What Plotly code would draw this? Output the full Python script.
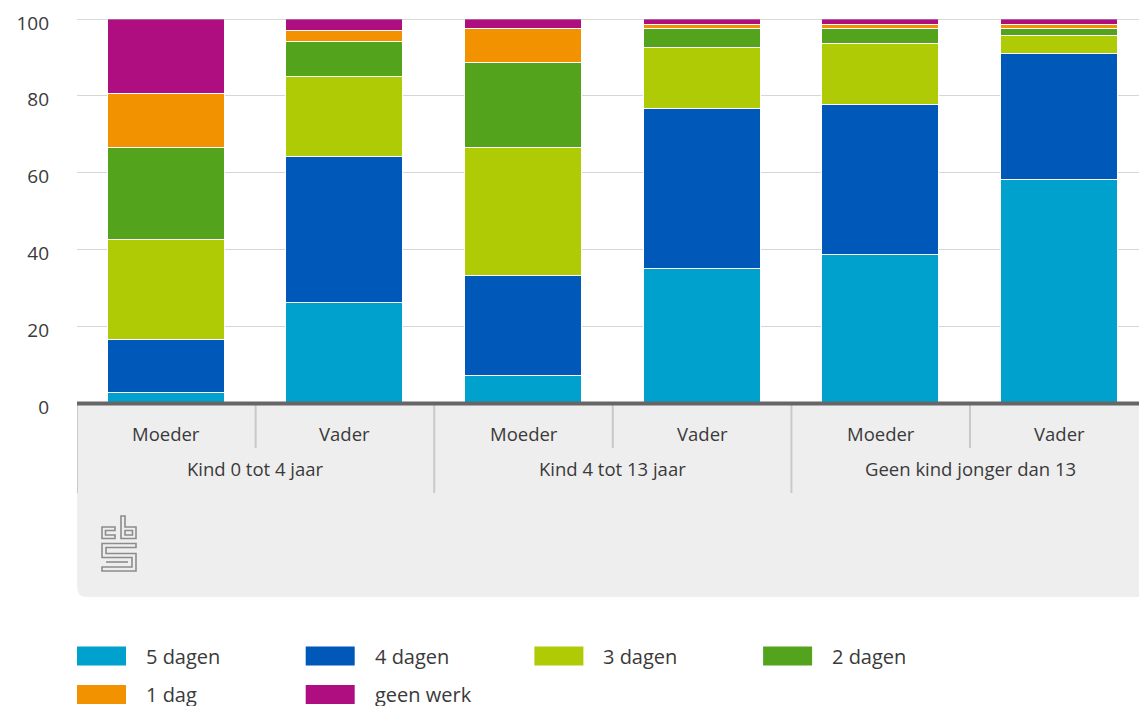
import numpy as np
import plotly.graph_objects as go

# Groepen en ouders (x-as, twee niveaus)
groepen = ["Kind 0 tot 4 jaar", "Kind 4 tot 13 jaar", "Geen kind jonger dan 13"]
ouders = ["Moeder", "Vader"]

# Aandeel (%) naar aantal werkdagen per week
vijf_dagen = [2.5, 26, 7, 35, 38.5, 58]
vier_dagen = [14, 38, 26, 41.5, 39, 33]
drie_dagen = [26, 21, 33.5, 16, 16, 4.5]
twee_dagen = [24, 9, 22, 5, 4, 2]
een_dag = [14, 3, 9, 1, 1, 1]
geen_werk = [19.5, 3, 2.5, 1.5, 1.5, 1.5]

reeksen = ["5 dagen", "4 dagen", "3 dagen", "2 dagen", "1 dag", "geen werk"]
waarden = [vijf_dagen, vier_dagen, drie_dagen, twee_dagen, een_dag, geen_werk]
kleuren = ["#00a1cd", "#0058b8", "#afcb05", "#53a31d", "#f39200", "#af0e80"]

y_ticks = [0, 20, 40, 60, 80, 100]

FONT = "Open Sans"
TEKST = "#3a3a3a"

W, H = 1139, 706
L, T, B = 77, 19, 303
PW, PH = W - L, H - T - B
CAT_PX = 178.6  # breedte van een categorie in pixels

posities = np.arange(len(groepen) * len(ouders))


def px(xp, yp):
    """Pixelpositie naar paper-coordinaten."""
    return (xp - L) / PW, (H - B - yp) / PH


fig = go.Figure()
for naam, vals, kleur in zip(reeksen, waarden, kleuren):
    fig.add_trace(go.Bar(
        x=posities, y=vals, name=naam, width=0.655,
        marker=dict(color=kleur, line=dict(color="white", width=1.5)),
        hovertemplate="%{y}%<extra>" + naam + "</extra>",
    ))

shapes = []

# grijs paneel onder de x-as met afgeronde hoek linksonder
x0, y0 = px(77, 403)
x1, y1 = px(W + 2, 597)
rx, ry = 10 / PW, 10 / PH
shapes.append(dict(
    type="path", xref="paper", yref="paper", layer="below",
    path=(f"M {x0},{y0} L {x1},{y0} L {x1},{y1} L {x0 + rx},{y1} "
          f"Q {x0},{y1} {x0},{y1 + ry} Z"),
    fillcolor="#eeeeee", line=dict(width=0),
))

# scheidingslijnen tussen de categorieen
for i in range(len(posities) + 1):
    xv = i - 0.5
    lang = i % len(ouders) == 0
    yb = px(0, 493 if lang else 448)[1]
    shapes.append(dict(
        type="line", xref="x", yref="paper", x0=xv, x1=xv,
        y0=px(0, 404)[1], y1=yb, line=dict(color="#c9c9c9", width=2),
    ))

# bovenste rasterlijn en x-aslijn
shapes.append(dict(type="line", xref="paper", yref="y", x0=0, x1=1, y0=100, y1=100,
                   line=dict(color="#b5b5b5", width=1.2)))
shapes.append(dict(type="line", xref="paper", yref="paper", x0=0, x1=1,
                   y0=px(0, 403.5)[1], y1=px(0, 403.5)[1],
                   line=dict(color="#666666", width=4)))

# CBS-logo
logo_paden = [
    [(115, 527), (102, 527), (102, 538.5), (115, 538.5), (115, 535), (105.5, 535), (105.5, 530.5), (115, 530.5)],
    [(121, 516), (125, 516), (125, 527), (136, 527), (136, 538.5), (121, 538.5)],
    [(125, 530.5), (132.5, 530.5), (132.5, 535), (125, 535)],
    [(102, 543.5), (136, 543.5), (136, 547.5), (106, 547.5), (106, 553.5), (136, 553.5),
     (136, 571), (102, 571), (102, 567), (132, 567), (132, 557.5), (102, 557.5)],
    [(106, 562), (128, 562)],
]
for i, pad in enumerate(logo_paden):
    pts = [px(a, b) for a, b in pad]
    d = "M " + " L ".join(f"{a},{b}" for a, b in pts)
    if i < 4:
        d += " Z"
    shapes.append(dict(type="path", xref="paper", yref="paper", path=d,
                       line=dict(color="#8c8c8c", width=1.6)))

annotations = []
# labels ouders en groepen
for gi, g in enumerate(groepen):
    for oi, o in enumerate(ouders):
        pos = gi * len(ouders) + oi
        annotations.append(dict(
            x=pos, y=px(0, 433.5)[1], xref="x", yref="paper", text=o, showarrow=False,
            font=dict(family=FONT, size=18.5, color=TEKST), xanchor="center", yanchor="middle",
        ))
    annotations.append(dict(
        x=gi * len(ouders) + (len(ouders) - 1) / 2, y=px(0, 468.5)[1], xref="x", yref="paper",
        text=g, showarrow=False, font=dict(family=FONT, size=18.5, color=TEKST),
        xanchor="center", yanchor="middle",
    ))

# legenda
for i, (naam, kleur) in enumerate(zip(reeksen, kleuren)):
    kol, rij = i % 4, i // 4
    sx = 77 + kol * 228.7
    sy = 656 + rij * 38.5
    a0, b0 = px(sx, sy - 9.5)
    a1, b1 = px(sx + 49, sy + 9.5)
    shapes.append(dict(type="rect", xref="paper", yref="paper", x0=a0, x1=a1, y0=b0, y1=b1,
                       fillcolor=kleur, line=dict(width=0)))
    tx, ty = px(sx + 67, sy)
    annotations.append(dict(
        x=tx, y=ty, xref="paper", yref="paper", text=naam, showarrow=False,
        font=dict(family=FONT, size=20, color=TEKST), xanchor="left", yanchor="middle",
    ))

fig.update_layout(
    barmode="stack",
    width=W, height=H,
    margin=dict(l=L, r=0, t=T, b=B),
    paper_bgcolor="white", plot_bgcolor="white",
    showlegend=False,
    bargap=0,
    xaxis=dict(range=[-0.5, -0.5 + PW / CAT_PX], showticklabels=False, showgrid=False,
               zeroline=False, showline=False, ticks=""),
    yaxis=dict(range=[0, 100], tickvals=y_ticks, ticktext=[str(v) for v in y_ticks],
               showgrid=True, gridcolor="#d6d6d6", gridwidth=1, zeroline=False,
               showline=False, ticks="", ticklabelstandoff=27, ticklabelshift=4,
               tickfont=dict(family=FONT, size=19, color=TEKST)),
    shapes=shapes,
    annotations=annotations,
)

fig.write_html("out.html")
